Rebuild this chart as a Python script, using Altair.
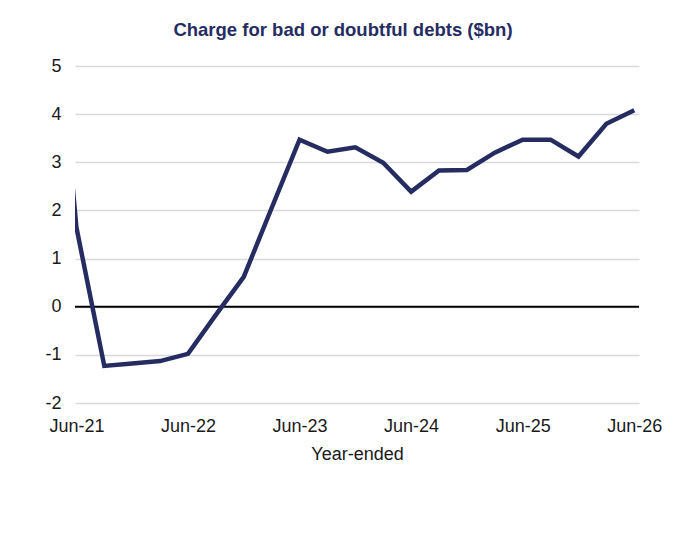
import altair as alt
import pandas as pd

# quarterly year-ended charge, $bn (first point sits just left of the axis and is clipped)
quarters = ["Mar-21", "Jun-21", "Sep-21", "Dec-21", "Mar-22", "Jun-22", "Sep-22",
            "Dec-22", "Mar-23", "Jun-23", "Sep-23", "Dec-23", "Mar-24", "Jun-24",
            "Sep-24", "Dec-24", "Mar-25", "Jun-25", "Sep-25", "Dec-25", "Mar-26", "Jun-26"]
charge = [8.0, 1.65, -1.23, -1.18, -1.13, -0.98, -0.17, 0.62, 2.05, 3.47, 3.22,
          3.31, 2.99, 2.39, 2.83, 2.84, 3.20, 3.47, 3.47, 3.12, 3.80, 4.08]
tick_labels = ["Jun-21", "Jun-22", "Jun-23", "Jun-24", "Jun-25", "Jun-26"]
y_ticks = [-2, -1, 0, 1, 2, 3, 4, 5]

df = pd.DataFrame({"quarter": quarters, "idx": range(-1, len(quarters) - 1), "charge": charge})

NAVY = "#252c62"
FONT = "Liberation Sans"
label_expr = "[" + ",".join("'%s'" % t for t in tick_labels) + "][datum.value / 4]"

x = alt.X("idx:Q",
          scale=alt.Scale(domain=[-0.05, 20.17], nice=False, zero=False),
          axis=alt.Axis(values=[0, 4, 8, 12, 16, 20], labelExpr=label_expr,
                        grid=False, domain=False, ticks=False, labelFlush=False,
                        labelPadding=14, title="Year-ended", titlePadding=10))
y = alt.Y("charge:Q",
          scale=alt.Scale(domain=[-2, 5], nice=False),
          axis=alt.Axis(values=y_ticks, labelExpr="'' + datum.value",
                        grid=True, gridColor="#d9d9d9", gridWidth=1.5,
                        domain=False, ticks=False, labelPadding=14, title=None))

line = alt.Chart(df).mark_line(color=NAVY, strokeWidth=4.5, clip=True).encode(x=x, y=y)

zero = alt.Chart(pd.DataFrame({"z": [0]})).mark_rule(color="black", strokeWidth=2).encode(y="z:Q")

chart = (zero + line).properties(
    width=564, height=337,
    autosize=alt.AutoSizeParams(type="none"),
    padding={"left": 67, "top": 58, "right": 37, "bottom": 125},
    title=alt.Title("Charge for bad or doubtful debts ($bn)", font=FONT, fontSize=18.5,
                    fontWeight="bold", color=NAVY, anchor="middle", dx=-14, offset=18),
).configure_axis(
    labelFont=FONT, labelFontSize=18, labelColor="#1a1a1a",
    titleFont=FONT, titleFontSize=18, titleFontWeight="normal", titleColor="#1a1a1a",
).configure_view(stroke=None)

chart.save("out.html", embed_options={"renderer": "svg", "actions": False})
